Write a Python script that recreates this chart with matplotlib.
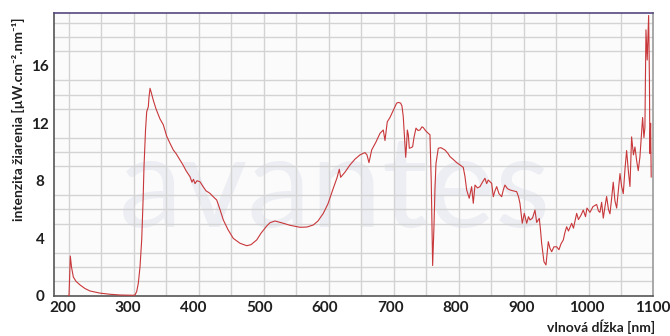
import numpy as np
import matplotlib
matplotlib.use("Agg")
import matplotlib.pyplot as plt

# spectrum (wavelength in nm, irradiance in uW/cm2/nm)
wavelength = [
    209.0, 209.9, 211.9, 213.7, 216.5, 220.6, 226.7, 234.3, 241.9, 257.2,
    272.4, 287.7, 307.5, 310.6, 313.2, 315.6, 318.2, 320.8, 322.8, 324.3,
    326.6, 328.4, 330.9, 331.9, 333.5, 335.0, 338.5, 342.6, 348.7, 353.7,
    358.9, 364.0, 369.0, 373.1, 379.2, 383.8, 388.4, 394.5, 397.5, 399.8,
    402.1, 405.1, 409.7, 414.3, 418.9, 425.0, 429.6, 435.2, 440.2, 445.3,
    452.4, 460.5, 470.7, 481.0, 487.5, 496.2, 502.8, 511.5, 516.5, 524.1,
    536.8, 547.0, 562.3, 572.9, 582.5, 589.7, 597.8, 605.0, 613.0, 618.7,
    622.2, 624.3, 630.9, 638.5, 646.1, 653.8, 661.4, 664.4, 667.5, 671.6,
    678.2, 684.3, 689.3, 691.9, 695.4, 699.5, 704.6, 709.7, 712.5, 715.8,
    717.8, 719.8, 721.7, 723.5, 724.7, 726.0, 727.5, 729.0, 731.6, 734.1,
    736.1, 739.2, 742.2, 745.3, 748.3, 750.3, 754.4, 757.9, 760.5, 762.5,
    764.6, 766.6, 768.2, 769.7, 773.2, 777.3, 783.4, 788.0, 791.0, 795.6,
    801.3, 806.3, 811.3, 813.9, 816.5, 820.4, 824.1, 826.6, 829.2, 833.0,
    836.8, 840.6, 844.4, 847.0, 849.4, 854.6, 857.1, 859.7, 862.3, 865.8,
    869.9, 872.6, 874.9, 878.7, 882.6, 887.1, 892.8, 895.5, 897.8, 901.3,
    904.4, 908.1, 910.8, 913.1, 916.9, 920.7, 923.3, 927.3, 929.1, 930.9,
    934.4, 937.5, 941.0, 943.6, 946.2, 949.6, 953.7, 957.3, 960.3, 963.9,
    966.4, 969.0, 971.8, 976.7, 979.4, 984.3, 987.0, 990.9, 994.4, 997.8,
    1000.0, 1004.6, 1009.2, 1014.8, 1017.5, 1019.8, 1022.4, 1024.9, 1027.5, 1030.0,
    1032.8, 1035.1, 1037.7, 1040.1, 1042.7, 1045.3, 1048.0, 1050.4, 1052.9, 1055.4,
    1058.0, 1060.5, 1063.3, 1065.6, 1068.1, 1070.9, 1073.2, 1075.8, 1078.2, 1080.8,
    1083.1, 1084.9, 1086.9, 1088.4, 1090.0, 1091.9, 1094.1, 1095.3, 1096.0, 1097.1,
    1098.0,
]
intensity = [
    0.0, 0.0, 2.76, 2.0, 1.3, 1.0, 0.75, 0.5, 0.33, 0.18,
    0.1, 0.05, 0.03, 0.05, 0.3, 0.86, 2.0, 3.9, 6.5, 8.98,
    11.5, 12.8, 13.15, 13.8, 14.43, 14.2, 13.6, 13.0, 12.3, 11.9,
    11.1, 10.6, 10.14, 9.9, 9.44, 9.1, 8.7, 8.28, 7.9, 8.1,
    7.8, 8.0, 7.93, 7.6, 7.3, 7.12, 6.9, 6.66, 6.0, 5.27,
    4.6, 3.99, 3.65, 3.48, 3.55, 3.88, 4.35, 4.85, 5.08, 5.2,
    5.04, 4.9, 4.76, 4.78, 4.92, 5.2, 5.73, 6.4, 7.47, 8.2,
    8.8, 8.24, 8.6, 9.1, 9.5, 9.8, 9.96, 9.8, 9.26, 10.14,
    10.7, 11.3, 11.53, 10.8, 12.1, 12.4, 12.9, 13.4, 13.45, 13.4,
    13.2, 12.45, 11.0, 9.63, 10.4, 11.53, 11.2, 10.26, 10.3, 10.37,
    11.0, 11.66, 11.5, 11.53, 11.75, 11.7, 11.45, 11.3, 11.2, 7.9,
    2.1, 4.8, 7.5, 9.2, 10.26, 10.3, 10.14, 9.9, 9.68, 9.5,
    9.26, 9.1, 8.93, 8.3, 7.36, 6.78, 7.59, 6.43, 7.7, 7.5,
    7.59, 7.9, 8.17, 7.8, 8.05, 7.82, 6.89, 7.3, 7.59, 7.1,
    6.89, 7.4, 7.7, 7.45, 7.36, 7.3, 7.24, 6.9, 6.43, 5.04,
    5.73, 5.04, 5.5, 5.27, 5.4, 5.96, 5.1, 5.38, 4.6, 3.64,
    2.37, 2.14, 3.76, 3.3, 3.06, 3.4, 3.41, 3.2, 3.6, 3.88,
    4.4, 4.8, 4.5, 5.04, 4.7, 5.73, 5.3, 5.6, 5.96, 5.5,
    6.1, 5.8, 6.2, 6.35, 5.9, 5.8, 6.5, 5.4, 6.2, 6.9,
    6.0, 5.7, 6.8, 7.9, 6.6, 6.1, 7.4, 8.5, 7.6, 7.1,
    8.8, 10.1, 8.6, 7.6, 11.05, 9.8, 10.35, 9.4, 8.7, 9.65,
    11.2, 12.4, 11.0, 11.7, 18.5, 16.4, 19.5, 15.0, 9.9, 12.0,
    8.26,
]

x_ticks = [200, 300, 400, 500, 600, 700, 800, 900, 1000, 1100]
y_ticks = [0, 4, 8, 12, 16]

FONT = ["Lato", "DejaVu Sans"]
LINE = "#c8373a"
GRID = "#d3d3d3"
TEXT = "#1f1f1f"

fig = plt.figure(figsize=(6.7, 3.36), dpi=100)
ax = fig.add_axes([0.0799, 0.1199, 0.894, 0.8405])
ax.set_facecolor("#fbfbfb")

# faint vendor watermark behind the grid
ax.text(0.47, 0.37, "avantes", transform=ax.transAxes, ha="center", va="center",
        fontsize=92, color="#eceef3", family=FONT, zorder=0.1)

ax.plot(wavelength, intensity, color=LINE, lw=0.8, zorder=3)

ax.set_xlim(186.3, 1100)
ax.set_ylim(0, 19.65)
ax.set_xticks(x_ticks)
ax.set_yticks(y_ticks)
ax.set_xticks([209.2 + 49.6 * k for k in range(18)], minor=True)
ax.set_yticks(range(0, 20), minor=True)
ax.grid(False)
ax.grid(True, which="minor", color=GRID, lw=1.0)
ax.set_axisbelow(True)
ax.tick_params(which="both", length=0)
ax.tick_params(axis="x", pad=4)
ax.tick_params(axis="y", pad=9.6)
for t in ax.get_xticklabels() + ax.get_yticklabels():
    t.set_fontfamily(FONT)
    t.set_fontweight("bold")
    t.set_fontsize(11)
    t.set_color(TEXT)
for t in ax.get_yticklabels():
    t.set_ha("center")

ax.spines["top"].set_color("#55477f")
ax.spines["left"].set_color("#555555")
ax.spines["bottom"].set_color("#555555")
ax.spines["right"].set_color("#9a9a9a")
for s in ax.spines.values():
    s.set_linewidth(1.2)

fig.text(18 / 670, 1 - 119 / 336, "intenzita žiarenia [µW.cm⁻².nm⁻¹]",
         rotation=90, ha="center", va="center", fontsize=10,
         fontweight="bold", family=FONT, color=TEXT)
fig.text(655 / 670, 1 - 327 / 336, "vlnová dĺžka [nm]", ha="right", va="center",
         fontsize=10, fontweight="bold", family=FONT, color=TEXT)

fig.savefig("out.png", dpi=100, facecolor="white")
